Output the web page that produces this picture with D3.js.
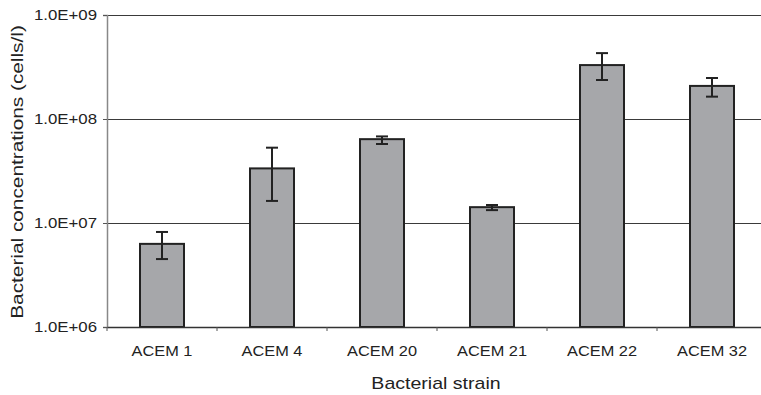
<!DOCTYPE html>
<html>
<head>
<meta charset="utf-8">
<script src="https://cdnjs.cloudflare.com/ajax/libs/d3/7.8.5/d3.min.js"></script>
<style>
  body { margin: 0; background: #fff; }
  svg { display: block; font-family: "Liberation Sans", Arial, sans-serif; }
</style>
</head>
<body>
<div class="chart"></div>
<script>
// Data
const strains = ["ACEM 1", "ACEM 4", "ACEM 20", "ACEM 21", "ACEM 22", "ACEM 32"];
const means = [6.3e6, 3.35e7, 6.4e7, 1.42e7, 3.3e8, 2.08e8];
const errHigh = [8.2e6, 5.3e7, 6.8e7, 1.49e7, 4.3e8, 2.48e8];
const errLow = [4.5e6, 1.63e7, 5.75e7, 1.33e7, 2.37e8, 1.64e8];
const yTicks = [1e6, 1e7, 1e8, 1e9];

const data = strains.map((s, i) => ({ strain: s, mean: means[i], hi: errHigh[i], lo: errLow[i] }));

const W = 761, H = 395;
const margin = { top: 15, right: -6, bottom: 68, left: 107 };
const width = W - margin.left - margin.right;
const height = H - margin.top - margin.bottom;

// the source picture's text is a bit wider than the font, stretch it
function stretch(sel, k) {
    sel.each(function () {
        const len = this.getComputedTextLength();
        d3.select(this)
            .attr("textLength", len * k)
            .attr("lengthAdjust", "spacingAndGlyphs");
    });
}

const svg = d3.select(".chart")
    .append("svg")
    .attr("width", W)
    .attr("height", H);

const g = svg.append("g")
    .attr("transform", `translate(${margin.left}, ${margin.top})`);

const x = d3.scaleBand()
    .domain(strains)
    .range([0, width])
    .paddingInner(0.6)
    .paddingOuter(0.3);

const y = d3.scaleLog()
    .domain([1e6, 1e9])
    .range([height, 0]);

// Gridlines
g.selectAll(".grid")
    .data(yTicks.slice(1))
    .enter()
    .append("line")
    .attr("x1", 0)
    .attr("x2", width)
    .attr("y1", d => Math.round(y(d)) + 0.5)
    .attr("y2", d => Math.round(y(d)) + 0.5)
    .attr("stroke", "#3a3a3a")
    .attr("stroke-width", 1.2);

// Y axis
const yAxis = g.append("g")
    .call(d3.axisLeft(y)
        .tickValues(yTicks)
        .tickFormat(d => "1.0E+" + String(Math.round(Math.log10(d))).padStart(2, "0"))
        .tickSize(4)
        .tickPadding(6));
yAxis.select(".domain").attr("stroke", "#888").attr("stroke-width", 1.5);
yAxis.selectAll(".tick line").attr("stroke", "#555");
yAxis.selectAll("text")
    .attr("font-size", 15)
    .attr("fill", "#222")
    .call(stretch, 1.12);

// Bars
g.selectAll(".bar")
    .data(data)
    .enter()
    .append("rect")
    .attr("class", "bar")
    .attr("x", d => x(d.strain))
    .attr("y", d => y(d.mean))
    .attr("width", x.bandwidth())
    .attr("height", d => height - y(d.mean))
    .attr("fill", "#a6a7aa")
    .attr("stroke", "#222")
    .attr("stroke-width", 2);

// X axis
const step = x.step();
const xAxis = g.append("g")
    .attr("transform", `translate(0, ${height})`)
    .call(d3.axisBottom(x).tickSize(0).tickPadding(18));
xAxis.select(".domain").attr("stroke", "#333").attr("stroke-width", 1.5);
xAxis.selectAll("text")
    .attr("font-size", 15)
    .attr("fill", "#222")
    .call(stretch, 1.09);

// Category boundary ticks
g.selectAll(".xtick")
    .data(strains)
    .enter()
    .append("line")
    .attr("x1", d => x(d) - step * 0.3)
    .attr("x2", d => x(d) - step * 0.3)
    .attr("y1", height)
    .attr("y2", height + 4)
    .attr("stroke", "#555");

// Error bars
const eb = g.selectAll(".err")
    .data(data)
    .enter()
    .append("g")
    .attr("stroke", "#222")
    .attr("stroke-width", 2);
eb.append("line")
    .attr("x1", d => x(d.strain) + x.bandwidth() / 2)
    .attr("x2", d => x(d.strain) + x.bandwidth() / 2)
    .attr("y1", d => y(d.hi))
    .attr("y2", d => y(d.lo));
eb.append("line")
    .attr("x1", d => x(d.strain) + x.bandwidth() / 2 - 6)
    .attr("x2", d => x(d.strain) + x.bandwidth() / 2 + 6)
    .attr("y1", d => y(d.hi))
    .attr("y2", d => y(d.hi));
eb.append("line")
    .attr("x1", d => x(d.strain) + x.bandwidth() / 2 - 6)
    .attr("x2", d => x(d.strain) + x.bandwidth() / 2 + 6)
    .attr("y1", d => y(d.lo))
    .attr("y2", d => y(d.lo));

// Labels
svg.append("text")
    .attr("x", 436)
    .attr("y", 389)
    .attr("text-anchor", "middle")
    .attr("font-size", 17)
    .attr("fill", "#222")
    .text("Bacterial strain")
    .call(stretch, 1.15);

svg.append("text")
    .attr("transform", "translate(23, 172) rotate(-90)")
    .attr("text-anchor", "middle")
    .attr("font-size", 16)
    .attr("fill", "#222")
    .text("Bacterial concentrations (cells/l)")
    .call(stretch, 1.3);
</script>
</body>
</html>
